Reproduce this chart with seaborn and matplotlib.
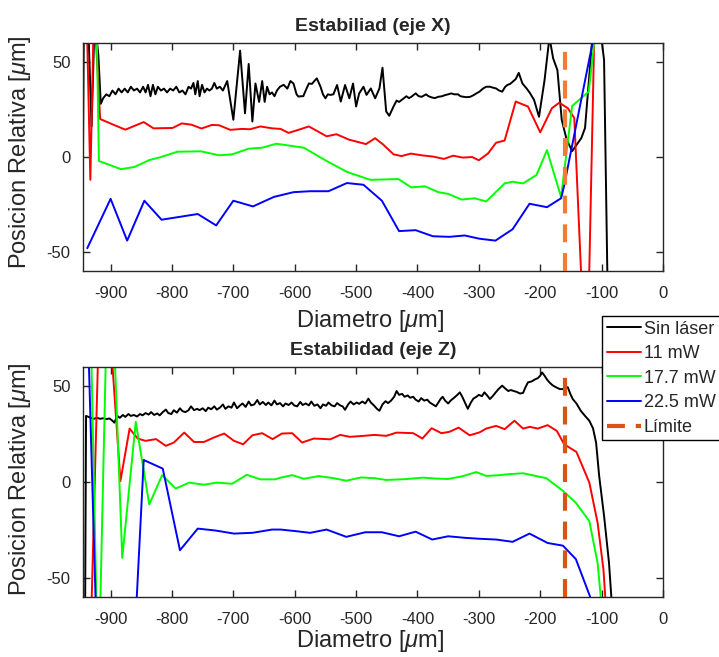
import numpy as np
import pandas as pd
import matplotlib
matplotlib.use("Agg")
import matplotlib.pyplot as plt
from matplotlib.lines import Line2D
import seaborn as sns

# ---------------- data: Estabilidad (eje X) ----------------
X_SIN_X = [-947, -943, -937, -931, -926, -920, -916,
           -912, -907, -902, -897, -892, -887, -882, -877, -872, -867, -862, -857, -852, -847, -843,
           -839, -835, -831, -827, -823, -818, -813, -808, -803, -798, -793, -788, -783, -778, -773,
           -769, -765, -762, -758, -755, -751, -747, -743, -739, -735, -731, -727, -722, -717,
           -710, -700, -689, -681, -675, -669, -664, -658, -653, -649, -645, -641, -637, -633, -629,
           -624, -618, -612, -607, -602, -597, -594, -590, -586, -583, -577, -572, -568, -564, -558,
           -554, -550, -546, -542, -537, -531, -525, -518, -511, -505, -500, -495, -488, -483, -476,
           -469, -462, -457, -451, -446, -439, -434, -430, -426, -422, -418, -414, -410, -403, -398,
           -393, -386, -382, -377, -372, -366, -360, -355, -350, -345, -340, -334, -330, -325, -320,
           -314, -309, -304, -299, -293, -288, -282, -277, -272, -267, -262, -257, -253, -249, -245,
           -240, -235, -229, -222, -217, -210, -202, -193, -185, -179, -172, -165, -157, -148, -140.5,
           -133, -127, -112, -103, -96, -90]
Y_SIN_X = [-100, 100, 75, 16, 72, 54, 28,
           31, 33, 32, 35, 33, 36, 34, 36, 34, 37, 35, 36, 34, 37, 34,
           38, 32, 38, 33, 37, 35, 36, 34, 36, 35, 37, 34, 35, 33, 37,
           36, 39, 33, 40, 32, 38, 34, 36, 35, 36, 39, 36, 37, 35,
           40, 19.6, 56, 23, 49, 18.7, 38.7, 29, 40, 29, 37, 33, 34, 32, 35,
           37, 38, 36, 40, 38.7, 33, 31.8, 32, 32, 34.4, 38.7, 38.5, 40, 41.4, 37,
           33, 30.9, 33, 32.7, 33, 37.9, 29.2, 37.9, 30.9, 38.7, 26.6, 33.5, 37, 32.7, 36.1,
           30.9, 36.1, 47, 24, 21.7, 26.6, 29.7, 29, 30, 31, 32, 31, 31.7, 33.5, 32,
           31.7, 33, 32, 31.4, 31, 31.7, 32, 32.6, 33, 33.5, 33, 33, 32, 31.7, 31.5,
           31.7, 32.5, 33.5, 34.4, 36.1, 37, 37, 36.5, 36.1, 35, 34.4, 37, 38, 38.5, 39.6,
           41, 44.3, 38.7, 36, 33.8, 30, 21.2, 40.4, 63, 52, 45.7, 19.6, 9.2, 3.1, 6.6,
           10, 15.3, 75, 70, 51, -75]

X_11_X = [-940, -933, -927, -917, -899, -876, -846, -830, -799, -784, -768, -752, -735, -723, -705,
          -686, -673, -656, -637, -623, -610, -596, -577, -548, -532, -512, -484, -469, -456, -439,
          -426, -411, -393, -374, -357, -342, -326, -311, -300, -285, -272, -258, -240, -220, -200,
          -181, -169, -155, -144.5, -124.5, -105]
Y_11_X = [90, -12, 80, 20, 17.5, 14.4, 18.4, 15.1, 15.3, 17.7, 17, 15, 16.9, 16.7, 14.3,
          14.8, 14.6, 16.1, 15.1, 14.8, 12.7, 14.1, 16.1, 10.9, 12, 9.2, 6.8, 9.9, 6.6, 1.4,
          0.5, 1.8, 0.9, 0.2, -1, 0.7, -0.3, 0, -1.7, 1.9, 7.5, 8.7, 29.2, 26.6, 13,
          25.7, 28.6, 25.7, 20.5, -127, 170]

X_177_X = [-927, -919, -883, -861, -837, -818, -791, -753, -723, -702, -675, -653, -630, -585, -548,
           -515, -477, -431, -410, -388, -366, -350, -328, -307, -288, -258, -245, -228, -206, -189,
           -166, -148, -121, -100]
Y_177_X = [150, -2.1, -6.4, -5.2, -1.6, 0, 2.8, 3, 0.9, 1.4, 4.4, 4.9, 7, 4.9, -2.1,
           -7.8, -12, -11.6, -16, -15.4, -18.5, -19.4, -22.4, -21.7, -23.4, -13.9, -13, -13.9, -9.4, 3.6,
           -21.1, 26.9, 34.4, 95]

X_225_X = [-938, -900, -873, -845, -817, -758, -728, -700, -668, -634, -602, -575, -545, -515, -488,
           -458, -430, -403, -375, -348, -323, -299, -273, -245, -217.5, -189, -166, -161, -105]
Y_225_X = [-48, -22, -44, -23, -33, -30, -36, -23, -26, -21, -18.5, -18, -18, -13.7, -14.6,
           -23, -39, -38.5, -41.7, -42, -41.3, -43, -44, -38, -24.6, -26.4, -21.7, -15, 76]

# ---------------- data: Estabilidad (eje Z) ----------------
X_SIN_Z = [-942, -940, -936, -932, -927, -922, -917, -912, -907, -902, -897, -894, -889, -885, -880,
           -876, -871, -867, -862, -857, -852, -848, -843, -838, -834, -829, -824, -820, -815, -810,
           -806, -801, -797, -792, -787, -783, -778, -773, -769, -764, -759, -755, -750, -745, -741,
           -736, -731, -727, -722, -717, -713, -708, -703, -699, -694, -689, -685, -680, -675, -671,
           -666, -661, -657, -652, -647, -643, -638, -633, -629, -624, -619, -615, -610, -605, -601,
           -596, -591, -587, -582, -577, -573, -568, -563, -558, -554, -549, -545, -540, -535, -531,
           -526, -522, -518, -513, -509, -504, -499, -495, -490, -485, -480, -476, -471, -466, -462,
           -457, -452, -448, -443, -438, -434, -430, -425, -421, -416, -412, -407, -403, -398, -394,
           -389, -384, -380, -375, -370, -366, -362, -359, -355, -350, -346, -341, -336, -331, -327,
           -322, -318, -313, -309, -304, -300, -295, -291, -286, -282, -277, -272, -268, -262, -257,
           -252, -248, -243, -238, -233, -228, -224, -220, -214, -209, -204, -200, -197, -193, -189,
           -185, -180, -174, -168, -163, -159, -155, -151, -147, -141, -134, -127, -120, -114, -109,
           -104, -96, -88, -82]
Y_SIN_Z = [-100, 34.5, 34, 33.5, 33, 33.5, 33, 33.3, 32.8, 33.2, 32, 31, 34.5, 33.5, 35,
           34, 35.5, 34.5, 35, 34.2, 35.5, 34.8, 36, 35.2, 36.5, 35, 35.8, 34.8, 36.5, 37.8,
           36, 35.5, 37.5, 36.2, 38.5, 37, 36.5, 37.5, 39.5, 37.5, 38.2, 37.5, 38.5, 37, 38.8,
           38, 39.5, 37.8, 38.8, 40.5, 38.2, 39.5, 38.8, 41.5, 38.5, 40, 41, 39.2, 42, 40,
           40.5, 42.8, 40.5, 41.8, 40.2, 41.5, 40, 42.5, 40.5, 41.2, 39.5, 41, 40.2, 41.5, 40,
           39.5, 41.8, 40.2, 41, 40, 42, 39.8, 40.5, 38.5, 40.5, 39.8, 41.5, 40, 39.5, 41.2,
           40, 39.5, 37.7, 40.5, 42, 40.5, 41.5, 40.8, 42, 41, 43.5, 41.5, 40, 38.2, 37.2,
           40.5, 42.2, 41.2, 42.5, 44.5, 47.5, 45.5, 46, 44.5, 45.2, 44, 44.5, 43, 42, 43.8,
           42.5, 43, 41.5, 40.5, 39.5, 41.5, 43.5, 44.5, 42.5, 41, 42.5, 43.8, 45.2, 46.8, 44.5,
           41, 38.2, 41.5, 43.5, 44.5, 45.5, 44.8, 46.8, 45, 43.3, 45, 47, 48.5, 50.3, 48.8,
           47.5, 48, 47.5, 47, 46.2, 46.5, 49.5, 52, 52.5, 53.5, 54.2, 55.5, 57.2, 55.5, 53.5,
           52, 50.5, 49.4, 48.5, 48.5, 49.5, 49.4, 46, 43.3, 41, 37.2, 34.5, 32, 28, 20.6,
           3.2, -17.7, -42, -70]

X_11_Z = [-934, -918, -900, -884, -869, -856, -843, -826, -810, -797, -780, -764, -748, -732, -715,
          -699, -684, -669, -653, -636, -621, -604, -588, -569, -542, -526, -510, -488, -470, -451,
          -434, -407, -392, -377, -361, -348, -333, -315, -299, -288, -272, -258, -242, -228, -217,
          -204, -188, -173, -161, -141, -120, -106.5, -97, -92]
Y_11_Z = [-100, 95, 75, 0.5, 27.9, 22.7, 21.5, 22.4, 18.9, 20.6, 25.8, 20.9, 20.9, 23.2, 25.3,
          21.5, 19.7, 24.4, 25.5, 22.4, 25.3, 25.5, 20.6, 22.7, 22.3, 24.6, 23.6, 24.1, 24.6, 24.1,
          25.8, 25.5, 22.7, 28.1, 25.5, 26.2, 28.4, 24.4, 25.9, 27.9, 29.3, 27.6, 32, 27.9, 28.8,
          27.9, 29.7, 26.7, 19.7, 15.7, -0.3, -21.3, -45.7, -70]

X_177_Z = [-933, -920, -906, -895, -881, -859, -837, -816, -794, -772, -748, -727, -702, -678, -656,
           -632, -623, -604, -585, -561, -540, -516, -492, -470, -451, -420, -391, -370, -350, -327,
           -304, -288, -270, -255, -228, -190, -163, -142, -120, -106.5, -98]
Y_177_Z = [90, -110, 90, 80, -39.6, 31.4, -11.7, 3.6, -3.4, -0.3, -1.4, -0.3, -0.9, 3.8, 1.4,
           1.4, 2.3, 3.6, 1.7, 3.1, 2.2, 0.7, 2.4, 2, 1.1, 1.5, 2.3, 1.8, 1.6, 3,
           5.2, 3.2, 3.5, 4, 4.6, 2, -4.6, -10.8, -20.4, -42.3, -72]

X_225_Z = [-937, -921, -870, -846, -815, -787, -758, -729, -699, -669, -637, -623, -599, -575, -548,
           -516, -485, -458, -430, -403, -376, -350, -323, -299, -272, -245, -217.5, -188, -163, -142,
           -119, -115]
Y_225_Z = [80, -100, -140, 11.5, 7.0, -35.6, -24.3, -25.3, -26.9, -26.5, -24.8, -24.8, -25.6, -26.5, -24.8,
           -28.6, -26.2, -26.2, -28.3, -25.9, -30, -28.3, -29.1, -29.6, -30, -31.2, -26.9, -31.8, -33.2, -40.2,
           -59.6, -66]

SERIES = ["Sin láser", "11 mW", "17.7 mW", "22.5 mW"]
LIMITE = -160
X_TICKS = [-900, -800, -700, -600, -500, -400, -300, -200, -100, 0]
Y_TICKS = [-50, 0, 50]
TITLES = ["Estabiliad (eje X)", "Estabilidad (eje Z)"]
XLABEL = r"Diametro [$\mu$m]"
YLABEL = r"Posicion Relativa [$\mu$m]"

COLORS = {"Sin láser": "#000000", "11 mW": "#FF0000", "17.7 mW": "#00FF00", "22.5 mW": "#0000FF"}
LIM_COLORS = ["#F47A3A", "#D95319"]


def build(xs, ys):
    frames = []
    for name, xv, yv in zip(SERIES, xs, ys):
        frames.append(pd.DataFrame({"x": xv, "y": yv, "serie": name}))
    return pd.concat(frames, ignore_index=True)


df_x = build([X_SIN_X, X_11_X, X_177_X, X_225_X], [Y_SIN_X, Y_11_X, Y_177_X, Y_225_X])
df_z = build([X_SIN_Z, X_11_Z, X_177_Z, X_225_Z], [Y_SIN_Z, Y_11_Z, Y_177_Z, Y_225_Z])

sns.set_theme(style="ticks")
plt.rcParams["font.family"] = ["Liberation Sans", "DejaVu Sans"]
plt.rcParams["mathtext.fontset"] = "custom"
plt.rcParams["mathtext.it"] = "Liberation Sans:italic"
plt.rcParams["mathtext.rm"] = "Liberation Sans"
plt.rcParams["axes.unicode_minus"] = False

fig = plt.figure(figsize=(7.19, 6.57), dpi=100)
ax_top = fig.add_axes([0.1154, 0.5875, 0.8067, 0.347])
ax_bot = fig.add_axes([0.1154, 0.0913, 0.8067, 0.350])

# (axes, data, title, limit colour, xlabel y-anchor, ylabel y-anchor)
panels = [(ax_top, df_x, TITLES[0], LIM_COLORS[0], -0.164, 0.52),
          (ax_bot, df_z, TITLES[1], LIM_COLORS[1], -0.133, 0.513)]

for ax, df, title, lc, xly, yly in panels:
    sns.lineplot(data=df, x="x", y="y", hue="serie", hue_order=SERIES, palette=COLORS,
                 units="serie", estimator=None, sort=False, legend=False, lw=1.4, ax=ax)
    ax.axvline(LIMITE, color=lc, lw=3.0, ls=(0, (4.3, 2.6)), zorder=5)
    ax.set_xlim(-945, 0)
    ax.set_ylim(-60, 60)
    ax.set_xticks(X_TICKS)
    ax.set_yticks(Y_TICKS)
    ax.tick_params(direction="in", length=5, width=1, top=True, right=True,
                   labelsize=12, colors="#262626")
    ax.tick_params(axis="x", pad=11)
    ax.tick_params(axis="y", pad=9)
    for s in ax.spines.values():
        s.set_color("#262626")
        s.set_linewidth(1.0)
    ax.set_title(title, fontsize=14, fontweight="bold", pad=9)
    ax.set_xlabel(XLABEL, fontsize=17, color="#262626")
    ax.set_ylabel(YLABEL, fontsize=17, color="#262626")
    ax.xaxis.set_label_coords(0.495, xly)
    ax.yaxis.set_label_coords(-0.086, yly)

handles = [Line2D([], [], color=COLORS[s], lw=1.4) for s in SERIES]
handles.append(Line2D([], [], color=LIM_COLORS[1], lw=3.0, ls=(0, (4.3, 2.6))))
leg = fig.legend(handles, SERIES + ["Límite"], loc="upper left",
                 bbox_to_anchor=(602 / 719, 1 - 316 / 657), fontsize=13,
                 frameon=True, fancybox=False, framealpha=1, edgecolor="#000000",
                 handlelength=1.9, handletextpad=0.15, labelspacing=0.42,
                 borderpad=0.25, borderaxespad=0)
leg.get_frame().set_linewidth(1.0)

fig.savefig("out.png", dpi=100)
